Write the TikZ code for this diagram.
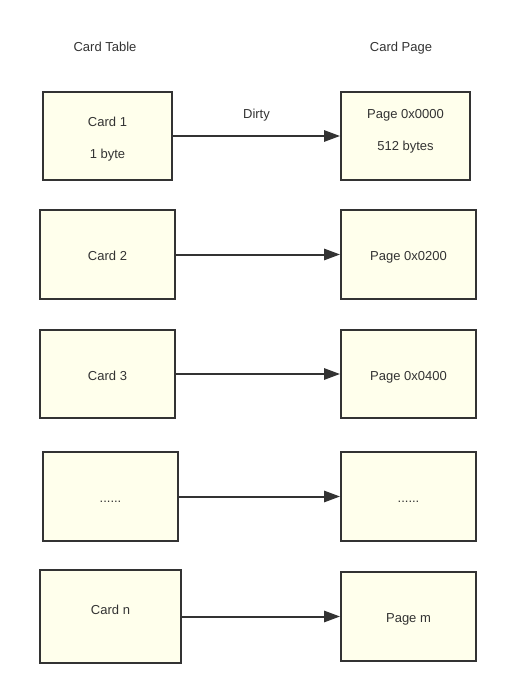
\documentclass[tikz,border=0pt]{standalone}
\usepackage{fontspec}
\setmainfont{Liberation Sans}
\usetikzlibrary{arrows.meta}
\definecolor{inkgray}{HTML}{333333}
\definecolor{boxfill}{HTML}{FFFFEC}

\begin{document}
\begin{tikzpicture}[x=0.75pt,y=-0.75pt,
    every node/.style={text=inkgray, font=\fontsize{9.75}{12}\selectfont,
        text height=11.5pt, text depth=2pt},
    cardbox/.style 2 args={draw=inkgray, fill=boxfill, line width=1.5pt,
        minimum width=#1*0.75pt, minimum height=#2*0.75pt, inner sep=0pt},
    dirtyarrow/.style={draw=inkgray, line width=1.5pt,
        -{Triangle[length=12pt,width=8.5pt]}}]
            \useasboundingbox (0,0) rectangle (506,688);
            % headers
            \draw (105,45.5) node (tablehead) {Card Table};
            \draw (401,45.5) node (pagehead) {Card Page};
            % card table
            \draw (107.5,136) node[cardbox={129}{88}, text height=19.5pt, text depth=10pt] (card1)
                  {\begin{tabular}{@{}c@{}}Card 1\\[12pt]1 byte\end{tabular}};
            \draw (107.5,254.5) node[cardbox={135}{89}] (card2) {Card 2};
            \draw (107.5,374) node[cardbox={135}{88}] (card3) {Card 3};
            \draw (110.5,496.5) node[cardbox={135}{89}] (cardx) {......};
            \draw (110.5,616.5) node[cardbox={141}{93}, text height=2pt, text depth=4.8pt] (cardn) {Card n};
            % card pages
            \draw (405.5,136) node[cardbox={129}{88}, text height=13pt, text depth=15.5pt] (page1)
                  {\begin{tabular}{@{}c@{}}Page 0x0000\\[12pt]512 bytes\end{tabular}};
            \draw (408.5,254.5) node[cardbox={135}{89}] (page2) {Page 0x0200};
            \draw (408.5,374) node[cardbox={135}{88}] (page3) {Page 0x0400};
            \draw (408.5,496.5) node[cardbox={135}{89}] (pagex) {......};
            \draw (408.5,616.5) node[cardbox={135}{89}] (pagem) {Page m};
            % pointers
            \draw[dirtyarrow] (card1) -- node[midway, above=6.9pt] (dirty) {Dirty} (page1);
            \draw[dirtyarrow] (card2) -- (page2);
            \draw[dirtyarrow] (card3) -- (page3);
            \draw[dirtyarrow] (cardx) -- (pagex);
            \draw[dirtyarrow] (cardn) -- (pagem);
\end{tikzpicture}
\end{document}
